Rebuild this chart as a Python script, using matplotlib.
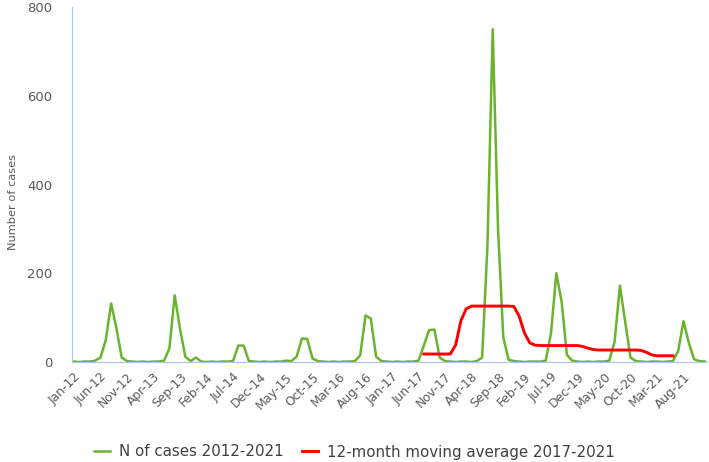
import matplotlib
matplotlib.use("Agg")
import matplotlib.pyplot as plt
import numpy as np

# monthly case counts, Jan-12 .. Dec-21
cases_2012 = [1, 0, 1, 1, 3, 10, 50, 132, 76, 10, 2, 1]
cases_2013 = [0, 1, 0, 1, 1, 3, 31, 150, 75, 12, 2, 10]
cases_2014 = [1, 0, 1, 0, 1, 1, 2, 37, 37, 2, 1, 0]
cases_2015 = [1, 0, 1, 1, 3, 2, 12, 53, 52, 8, 2, 1]
cases_2016 = [0, 1, 0, 1, 1, 2, 15, 105, 98, 12, 2, 1]
cases_2017 = [0, 1, 0, 1, 1, 3, 37, 72, 73, 10, 2, 1]
cases_2018 = [0, 1, 1, 0, 2, 10, 260, 750, 300, 55, 5, 2]
cases_2019 = [1, 0, 1, 1, 1, 3, 65, 200, 136, 16, 3, 1]
cases_2020 = [0, 1, 0, 1, 1, 3, 46, 172, 90, 10, 2, 1]
cases_2021 = [0, 1, 1, 0, 1, 2, 25, 92, 43, 6, 2, 1]
cases = np.array(cases_2012 + cases_2013 + cases_2014 + cases_2015 + cases_2016
                 + cases_2017 + cases_2018 + cases_2019 + cases_2020 + cases_2021)

# 12-month moving average, Jul-17 .. Jun-21
ma_start = 66
moving_avg = np.array([18, 18, 18, 18, 18, 18, 38, 93, 120, 126, 126, 126,
                       126, 126, 126, 126, 126, 125, 103, 65, 43, 38, 37, 37,
                       37, 37, 37, 37, 37, 37, 35, 31, 28, 27, 27, 27,
                       27, 27, 27, 27, 27, 26, 22, 16, 14, 14, 14, 14])

tick_labels = ["Jan-12", "Jun-12", "Nov-12", "Apr-13", "Sep-13", "Feb-14", "Jul-14",
               "Dec-14", "May-15", "Oct-15", "Mar-16", "Aug-16", "Jan-17", "Jun-17",
               "Nov-17", "Apr-18", "Sep-18", "Feb-19", "Jul-19", "Dec-19", "May-20",
               "Oct-20", "Mar-21", "Aug-21"]

green = "#6ab42d"
red = "#ff0000"
grey = "#595959"
axis_col = "#b4c6e7"

fig = plt.figure(figsize=(7.09, 4.62), dpi=100)
ax = fig.add_axes([72 / 709, 100 / 462, 635 / 709, 355 / 462])

x = np.arange(len(cases))
ax.plot(x, cases, color=green, lw=1.8, solid_joinstyle="round",
        label="N of cases 2012-2021", zorder=2)
ax.plot(np.arange(ma_start, ma_start + len(moving_avg)), moving_avg, color=red, lw=2.1,
        solid_joinstyle="round", label="12-month moving average 2017-2021", zorder=3)

ax.set_xlim(-0.38, 119.43)
ax.set_ylim(0, 800)
ax.set_yticks([0, 200, 400, 600, 800])
ax.set_xticks(np.arange(0, len(cases), 5))
ax.set_xticklabels(tick_labels, rotation=45, ha="right", rotation_mode="anchor")
ax.tick_params(axis="both", length=0, colors=grey)
ax.tick_params(axis="y", labelsize=9.5, pad=14)
ax.tick_params(axis="x", labelsize=8.8, pad=6)

for s in ("top", "right"):
    ax.spines[s].set_visible(False)
for s in ("left", "bottom"):
    ax.spines[s].set_color(axis_col)
    ax.spines[s].set_linewidth(0.9)

ax.set_ylabel("Number of cases", fontsize=8.2, color=grey)
ax.yaxis.set_label_coords(-0.085, 0.45)

fig.legend(loc="center", bbox_to_anchor=(0.5, 10 / 462), ncol=2, frameon=False,
           fontsize=10.8, handlelength=1.1, handletextpad=0.6, columnspacing=1.2,
           labelcolor="#404040")

fig.savefig("out.png", dpi=100)
